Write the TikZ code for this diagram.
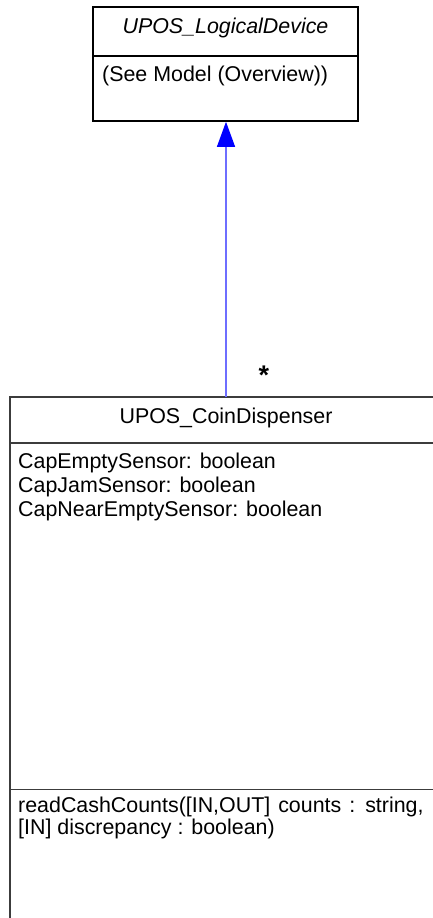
\documentclass[tikz,border=0pt]{standalone}
\usepackage{fontspec}
\setmainfont{Liberation Sans}
\usetikzlibrary{arrows.meta}
\definecolor{edgeblue}{RGB}{110,110,255}
\definecolor{boxgray}{RGB}{60,60,60}
\begin{document}
\begin{tikzpicture}[x=1pt,y=-1pt,
  classbox/.style={draw=black,line width=1.6pt,inner sep=0pt},
  bigbox/.style={draw=boxgray,line width=1.4pt,inner sep=0pt},
  txt/.style={anchor=base west,inner sep=0pt,font=\fontsize{21.4}{24}\selectfont},
  ctxt/.style={anchor=base,inner sep=0pt,font=\fontsize{21.4}{24}\selectfont},
  gen/.style={draw=edgeblue,line width=1.1pt,-{Triangle[width=18pt,length=25pt,fill=blue,color=blue]}}]
\useasboundingbox (0,0) rectangle (432,918);
% top class
\node[classbox,minimum width=265pt,minimum height=114pt] (logical) at (225.5,64) {};
\draw[black,line width=1.6pt] (93,56) -- (358,56);
\node[ctxt,font=\fontsize{21.4}{24}\selectfont\itshape] (lname) at (225.5,33.5) {UPOS\_LogicalDevice};
\node[txt] (lattr) at (102,81.5) {(See Model (Overview))};
% bottom class (cut off at right and bottom)
\node[bigbox,minimum width=432pt,minimum height=540pt] (coin) at (226,667) {};
\draw[boxgray,line width=1.4pt] (10,443) -- (442,443);
\draw[boxgray,line width=1.4pt] (10,789.5) -- (442,789.5);
\node[ctxt] (cname) at (226,423) {UPOS\_CoinDispenser};
\node[txt] (a1) at (18,468) {CapEmptySensor: boolean};
\node[txt] (a2) at (18,492) {CapJamSensor: boolean};
\node[txt] (a3) at (18,516) {CapNearEmptySensor: boolean};
\node[txt] (m1) at (18,812) {\spaceskip=8pt plus 1pt\relax readCashCounts([IN,OUT] counts : string,};
\node[txt] (m2) at (18,834) {[IN] discrepancy : boolean)};
% generalization
\coordinate (gstart) at (226,397);
\draw[gen] (gstart) -- (gstart |- logical.south);
\node[inner sep=0pt,font=\fontsize{27}{27}\bfseries\selectfont] (mult) at (264,375) {*};
\end{tikzpicture}
\end{document}
